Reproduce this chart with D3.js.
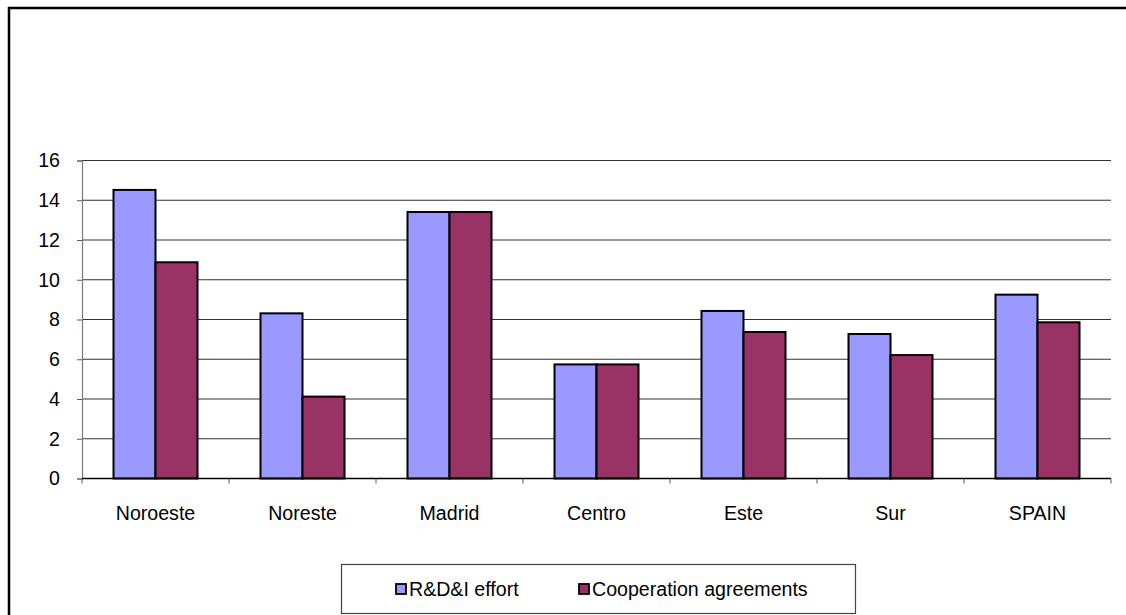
<!DOCTYPE html>
<html>
<head>
<meta charset="utf-8">
<script src="https://cdn.jsdelivr.net/npm/d3@7"></script>
<style>
  body { margin: 0; background: #fff; }
  svg { display: block; font-family: 'Liberation Sans', Arial, sans-serif; }
</style>
</head>
<body>
<svg id="chart" width="1126" height="615"></svg>
<script>
const regions = ['Noroeste', 'Noreste', 'Madrid', 'Centro', 'Este', 'Sur', 'SPAIN'];
const seriesNames = ['R&D&I effort', 'Cooperation agreements'];
const effort = [14.52, 8.31, 13.41, 5.74, 8.43, 7.27, 9.25];
const cooperation = [10.88, 4.12, 13.41, 5.74, 7.37, 6.21, 7.86];
const colors = ['#9999ff', '#993366'];
const yTicks = [0, 2, 4, 6, 8, 10, 12, 14, 16];

var fontSize = 19.6;
var svg = d3.select('#chart');

// outer chart frame (runs off the right and bottom of the picture)
svg.append('rect')
    .attr('x', 9).attr('y', 8)
    .attr('width', 1300).attr('height', 800)
    .attr('fill', 'none').attr('stroke', '#000').attr('stroke-width', 2.5);

var plotLeft = 82, plotRight = 1111, plotTop = 160.5, plotBottom = 478.5;

var x0 = d3.scaleBand().domain(regions).range([plotLeft, plotRight]).padding(0);
var x1 = d3.scaleBand().domain([0, 1]).range([0, x0.bandwidth()])
    .paddingInner(0).paddingOuter(0.75);
var y = d3.scaleLinear().domain([0, 16]).range([plotBottom, plotTop]);

// gridlines
svg.append('g').selectAll('line')
    .data(yTicks.slice(1))
    .join('line')
    .attr('x1', plotLeft).attr('x2', plotRight)
    .attr('y1', d => y(d)).attr('y2', d => y(d))
    .attr('stroke', '#333').attr('stroke-width', 1.2);

// y axis
var yAxis = svg.append('g')
    .attr('transform', 'translate(' + plotLeft + ',0)')
    .call(d3.axisLeft(y).tickValues(yTicks).tickSize(5).tickPadding(17));
yAxis.select('.domain').attr('stroke', '#777').attr('stroke-width', 1.2);
yAxis.selectAll('.tick line').attr('stroke', '#555');
yAxis.selectAll('text').attr('font-size', fontSize).attr('fill', '#000')
    .attr('font-family', "'Liberation Sans', Arial, sans-serif");

// bars
var rows = regions.map((r, i) => ({region: r, values: [effort[i], cooperation[i]]}));
var groups = svg.append('g').selectAll('g')
    .data(rows)
    .join('g')
    .attr('transform', d => 'translate(' + x0(d.region) + ',0)');
groups.selectAll('rect')
    .data(d => d.values.map((v, k) => ({k: k, v: v})))
    .join('rect')
    .attr('x', d => x1(d.k))
    .attr('width', x1.bandwidth())
    .attr('y', d => y(d.v))
    .attr('height', d => y(0) - y(d.v))
    .attr('fill', d => colors[d.k])
    .attr('stroke', '#000').attr('stroke-width', 2);

// x axis
var xAxis = svg.append('g').attr('transform', 'translate(0,' + plotBottom + ')');
xAxis.append('line')
    .attr('x1', plotLeft).attr('x2', plotRight)
    .attr('stroke', '#000').attr('stroke-width', 1.5);
var bounds = regions.map(r => x0(r)).concat([plotRight]);
xAxis.selectAll('line.tk')
    .data(bounds)
    .join('line')
    .attr('class', 'tk')
    .attr('x1', d => d).attr('x2', d => d)
    .attr('y1', 0).attr('y2', 5)
    .attr('stroke', '#555');
xAxis.selectAll('text')
    .data(regions)
    .join('text')
    .attr('x', d => x0(d) + x0.bandwidth() / 2)
    .attr('y', 41)
    .attr('text-anchor', 'middle')
    .attr('font-size', fontSize)
    .text(d => d);

// legend
var legend = svg.append('g');
legend.append('rect')
    .attr('x', 341.5).attr('y', 564.5)
    .attr('width', 514).attr('height', 49)
    .attr('fill', '#fff').attr('stroke', '#444').attr('stroke-width', 1.2);
var legendX = [396, 579];
var items = legend.selectAll('g')
    .data(seriesNames)
    .join('g')
    .attr('transform', (d, i) => 'translate(' + legendX[i] + ',584)');
items.append('rect')
    .attr('width', 10).attr('height', 10)
    .attr('fill', (d, i) => colors[i])
    .attr('stroke', '#000').attr('stroke-width', 1.8);
items.append('text')
    .attr('x', 13).attr('y', 12)
    .attr('font-size', fontSize)
    .text(d => d);
</script>
</body>
</html>
